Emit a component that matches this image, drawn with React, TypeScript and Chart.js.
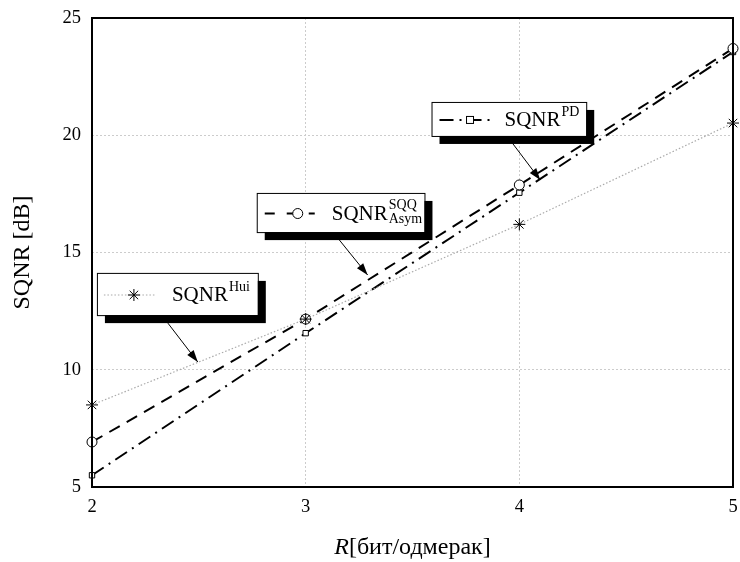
import React, { useEffect, useRef } from "react";
import { Chart, registerables } from "chart.js";

Chart.register(...registerables);

const rates = [2, 3, 4, 5];
const sqnrHui = [8.5, 12.16, 16.2, 20.52];
const sqnrSQQ = [6.92, 12.16, 17.88, 23.7];
const sqnrPD = [5.5, 11.56, 17.55, 23.55];
const yTicks = [5, 10, 15, 20, 25];
const xTitle = "бит/одмерак";
const yTitle = "SQNR [dB]";

const FONT = "'Liberation Serif', 'DejaVu Serif', serif";

type Ann = {
  box: [number, number, number, number];
  arrow: [number, number, number, number];
  sup: string;
  sub?: string;
  sample: "hui" | "sqq" | "pd";
};

const annotations: Ann[] = [
  { box: [2.023, 14.13, 2.776, 12.33], arrow: [2.355, 11.99, 2.495, 10.33], sup: "Hui", sample: "hui" },
  { box: [2.771, 17.54, 3.556, 15.87], arrow: [3.15, 15.62, 3.29, 14.04], sup: "SQQ", sub: "Asym", sample: "sqq" },
  { box: [3.589, 21.42, 4.313, 19.97], arrow: [3.967, 19.67, 4.098, 18.09], sup: "PD", sample: "pd" },
];

function drawStar(ctx: CanvasRenderingContext2D, x: number, y: number, r: number) {
  ctx.save();
  ctx.strokeStyle = "#000";
  ctx.lineWidth = 1;
  ctx.setLineDash([]);
  ctx.beginPath();
  for (let i = 0; i < 4; i++) {
    const a = (i * Math.PI) / 4;
    ctx.moveTo(x - r * Math.cos(a), y - r * Math.sin(a));
    ctx.lineTo(x + r * Math.cos(a), y + r * Math.sin(a));
  }
  ctx.stroke();
  ctx.restore();
}

const framePlugin = {
  id: "frameAnn",
  afterDatasetsDraw(chart: any) {
    const { ctx, chartArea } = chart;
    ctx.save();
    ctx.strokeStyle = "#000";
    ctx.lineWidth = 2;
    ctx.setLineDash([]);
    ctx.strokeRect(chartArea.left, chartArea.top, chartArea.right - chartArea.left, chartArea.bottom - chartArea.top);
    ctx.restore();
  },
  afterDraw(chart: any) {
    const { ctx, scales } = chart;
    const sx = scales.x;
    const sy = scales.y;
    annotations.forEach((a) => {
      const x1 = sx.getPixelForValue(a.box[0]);
      const y1 = sy.getPixelForValue(a.box[1]);
      const x2 = sx.getPixelForValue(a.box[2]);
      const y2 = sy.getPixelForValue(a.box[3]);
      const w = x2 - x1;
      const h = y2 - y1;
      ctx.save();
      ctx.fillStyle = "#000";
      ctx.fillRect(x1 + 8, y1 + 8, w, h);
      ctx.fillStyle = "#fff";
      ctx.fillRect(x1, y1, w, h);
      ctx.strokeStyle = "#000";
      ctx.lineWidth = 1;
      ctx.setLineDash([]);
      ctx.strokeRect(x1 + 0.5, y1 + 0.5, w, h);
      const ax1 = sx.getPixelForValue(a.arrow[0]);
      const ay1 = sy.getPixelForValue(a.arrow[1]);
      const ax2 = sx.getPixelForValue(a.arrow[2]);
      const ay2 = sy.getPixelForValue(a.arrow[3]);
      ctx.beginPath();
      ctx.moveTo(ax1, ay1);
      ctx.lineTo(ax2, ay2);
      ctx.lineWidth = 1;
      ctx.stroke();
      const ang = Math.atan2(ay2 - ay1, ax2 - ax1);
      const L = 12;
      const W = 4;
      ctx.beginPath();
      ctx.moveTo(ax2, ay2);
      ctx.lineTo(ax2 - L * Math.cos(ang) + W * Math.sin(ang), ay2 - L * Math.sin(ang) - W * Math.cos(ang));
      ctx.lineTo(ax2 - L * Math.cos(ang) - W * Math.sin(ang), ay2 - L * Math.sin(ang) + W * Math.cos(ang));
      ctx.closePath();
      ctx.fillStyle = "#000";
      ctx.fill();

      const cy = y1 + h / 2 + 1;
      const sL = x1 + 7;
      const sR = x1 + 58;
      ctx.beginPath();
      if (a.sample === "hui") {
        ctx.strokeStyle = "#aaaaaa";
        ctx.lineWidth = 1.2;
        ctx.setLineDash([1.5, 2]);
        ctx.moveTo(sL, cy);
        ctx.lineTo(sR, cy);
        ctx.stroke();
        drawStar(ctx, x1 + 37, cy, 6);
      } else if (a.sample === "sqq") {
        ctx.strokeStyle = "#000";
        ctx.lineWidth = 2;
        ctx.setLineDash([10, 12]);
        ctx.moveTo(sL + 1, cy);
        ctx.lineTo(sR, cy);
        ctx.stroke();
        ctx.setLineDash([]);
        ctx.beginPath();
        ctx.arc(x1 + 41, cy, 5, 0, Math.PI * 2);
        ctx.fillStyle = "#fff";
        ctx.fill();
        ctx.lineWidth = 1;
        ctx.stroke();
      } else {
        ctx.strokeStyle = "#000";
        ctx.lineWidth = 2;
        ctx.setLineDash([14, 6, 2, 6]);
        ctx.moveTo(sL + 1, cy);
        ctx.lineTo(sR + 6, cy);
        ctx.stroke();
        ctx.setLineDash([]);
        ctx.fillStyle = "#fff";
        ctx.lineWidth = 1;
        ctx.fillRect(x1 + 35, cy - 3.5, 7, 7);
        ctx.strokeRect(x1 + 35, cy - 3.5, 7, 7);
      }
      ctx.setLineDash([]);
      ctx.fillStyle = "#000";
      ctx.textAlign = "left";
      ctx.textBaseline = "alphabetic";
      ctx.font = `21px ${FONT}`;
      const tx = a.sample === "pd" ? x1 + 73 : x1 + 75;
      const base = y1 + h / 2 + 7;
      ctx.fillText("SQNR", tx, base);
      const tw = ctx.measureText("SQNR").width;
      ctx.font = `14px ${FONT}`;
      if (a.sub) {
        ctx.fillText(a.sup, tx + tw + 1, base - 11);
        ctx.fillText(a.sub, tx + tw + 1, base + 3);
      } else {
        ctx.fillText(a.sup, tx + tw + 1, base - 10);
      }
      ctx.restore();
    });

    const ca = chart.chartArea;
    ctx.save();
    ctx.fillStyle = "#000";
    ctx.textBaseline = "alphabetic";
    ctx.textAlign = "left";
    ctx.font = `italic 24px ${FONT}`;
    const rW = ctx.measureText("R").width;
    ctx.font = `24px ${FONT}`;
    const restW = ctx.measureText("[" + xTitle + "]").width;
    const total = rW + restW;
    const cx = (ca.left + ca.right) / 2 - total / 2;
    const ty = 554;
    ctx.font = `italic 24px ${FONT}`;
    ctx.fillText("R", cx, ty);
    ctx.font = `24px ${FONT}`;
    ctx.fillText("[" + xTitle + "]", cx + rW, ty);
    ctx.restore();
  },
};

export default function App() {
  const ref = useRef<HTMLCanvasElement | null>(null);
  useEffect(() => {
    if (!ref.current) return;
    const chart = new Chart(ref.current, {
      type: "line",
      data: {
        datasets: [
          {
            label: "Hui",
            data: rates.map((r, i) => ({ x: r, y: sqnrHui[i] })),
            borderColor: "#aaaaaa",
            borderWidth: 1.2,
            borderDash: [1.5, 2],
            pointStyle: "star",
            pointRadius: 6,
            pointBorderColor: "#000",
            pointBorderWidth: 1,
            pointBackgroundColor: "#000",
            clip: false as any,
          },
          {
            label: "SQQ",
            data: rates.map((r, i) => ({ x: r, y: sqnrSQQ[i] })),
            borderColor: "#000",
            borderWidth: 2,
            borderDash: [12, 8],
            pointStyle: "circle",
            pointRadius: 5,
            pointBorderColor: "#000",
            pointBorderWidth: 1,
            pointBackgroundColor: "#fff",
            clip: false as any,
          },
          {
            label: "PD",
            data: rates.map((r, i) => ({ x: r, y: sqnrPD[i] })),
            borderColor: "#000",
            borderWidth: 2,
            borderDash: [14, 6, 2, 6],
            pointStyle: "rect",
            pointRadius: 3.8,
            pointBorderColor: "#000",
            pointBorderWidth: 1,
            pointBackgroundColor: "#fff",
            clip: false as any,
          },
        ],
      },
      options: {
        responsive: false,
        animation: false,
        layout: { padding: { top: 18, right: 6, left: 0, bottom: 0 } },
        plugins: { legend: { display: false }, tooltip: { enabled: false } },
        scales: {
          x: {
            type: "linear",
            min: 2,
            max: 5,
            afterBuildTicks: (s: any) => {
              s.ticks = rates.map((v) => ({ value: v }));
            },
            afterFit: (s: any) => {
              s.height = 75;
              s.paddingLeft = 0;
              s.paddingRight = 0;
            },
            ticks: { color: "#000", font: { family: FONT, size: 18.5 }, padding: 9 },
            grid: { color: "#cccccc", lineWidth: 1, drawTicks: false },
            border: { display: false, dash: [2, 2] },
          },
          y: {
            type: "linear",
            min: 5,
            max: 25,
            afterBuildTicks: (s: any) => {
              s.ticks = yTicks.map((v) => ({ value: v }));
            },
            afterFit: (s: any) => {
              s.width = 92;
              s.paddingTop = 0;
              s.paddingBottom = 0;
            },
            ticks: { color: "#000", font: { family: FONT, size: 18.5 }, padding: 11 },
            grid: { color: "#cccccc", lineWidth: 1, drawTicks: false },
            border: { display: false, dash: [2, 2] },
            title: {
              display: true,
              text: yTitle,
              color: "#000",
              font: { family: FONT, size: 24 },
              padding: { top: 8, bottom: 0 },
            },
          },
        },
      },
      plugins: [framePlugin],
    });
    return () => chart.destroy();
  }, []);
  return (
    <div style={{ position: "fixed", left: 0, top: 0, width: 740, height: 562, background: "#fff" }}>
      <canvas ref={ref} width={740} height={562} />
    </div>
  );
}
